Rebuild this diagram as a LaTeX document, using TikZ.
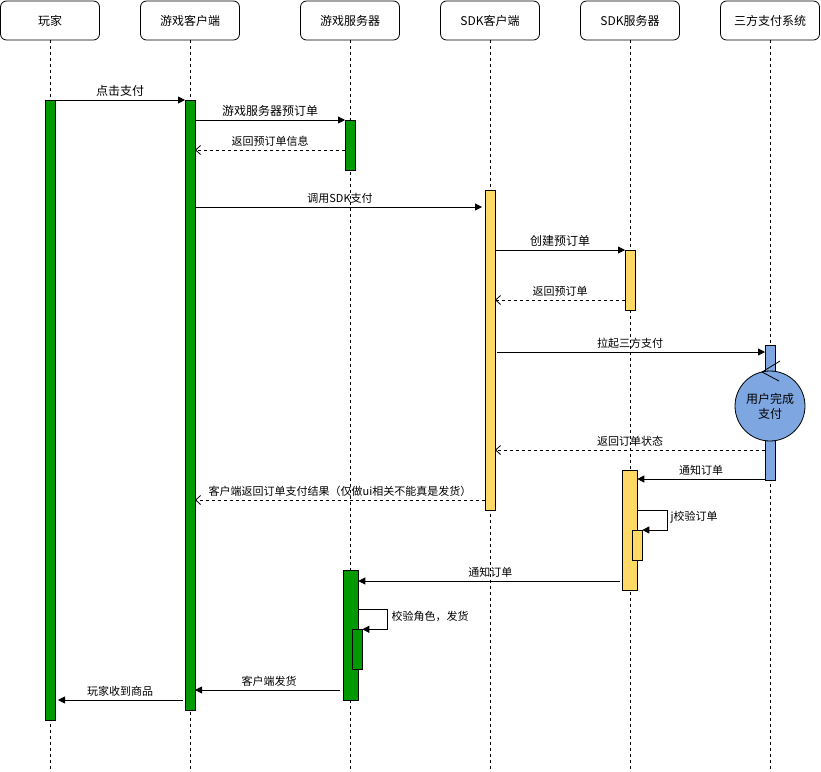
\documentclass[tikz,border=0pt]{standalone}
\usepackage{fontspec}
\setmainfont{Noto Sans CJK SC}
\usetikzlibrary{arrows.meta,calc}
\definecolor{actgreen}{HTML}{009900}
\definecolor{actyellow}{HTML}{FFD966}
\definecolor{actblue}{HTML}{7EA6E0}
\begin{document}
\begin{tikzpicture}[x=1pt,y=-1pt,
  hdr/.style={draw, rounded corners=6pt, minimum width=99pt, minimum height=39pt, inner sep=0pt, font=\fontsize{12}{14}\selectfont, line width=0.8pt},
  life/.style={dash pattern=on 3pt off 3pt, line width=0.8pt},
  actbar/.style={draw, line width=0.8pt, inner sep=0pt, outer sep=0pt},
  msg/.style={-{Triangle[length=7pt,width=7pt]}, line width=0.8pt},
  ret/.style={dash pattern=on 3pt off 3pt, -{Straight Barb[length=5pt,width=9pt]}, line width=0.8pt},
  lbl/.style={font=\fontsize{11}{13}\selectfont, above=2.5pt, inner sep=1pt},
  lblb/.style={font=\fontsize{12}{14}\selectfont, above=2.5pt, inner sep=1pt},
  slbl/.style={font=\fontsize{11}{13}\selectfont, anchor=west, inner sep=1pt}
]
\useasboundingbox (0,0) rectangle (821,771);
\fill[white] (0,0) rectangle (821,771);

% headers
\node[hdr] (h1) at (50,20.5) {玩家};
\node[hdr] (h2) at (190,20.5) {游戏客户端};
\node[hdr] (h3) at (350,20.5) {游戏服务器};
\node[hdr] (h4) at (490,20.5) {SDK客户端};
\node[hdr] (h5) at (630,20.5) {SDK服务器};
\node[hdr] (h6) at (770,20.5) {三方支付系统};

\coordinate (bot) at (0,771);
\foreach \h in {h1,h2,h3,h4,h5,h6}
  \draw[life] (\h.south) -- (\h.south |- bot);

% activation bars
\node[actbar, fill=actgreen, minimum width=10pt, minimum height=620pt] (p1) at (50,410) {};
\node[actbar, fill=actgreen, minimum width=10pt, minimum height=610pt] (c1) at (190,405) {};
\node[actbar, fill=actgreen, minimum width=10pt, minimum height=50pt] (g1) at (350,145) {};
\node[actbar, fill=actyellow, minimum width=10pt, minimum height=320pt] (s1) at (490,350) {};
\node[actbar, fill=actyellow, minimum width=10pt, minimum height=60pt] (v1) at (630,280) {};
\node[actbar, fill=actblue, minimum width=10pt, minimum height=135pt] (t1) at (770,412.5) {};
\node[actbar, fill=actblue, circle, minimum size=70pt, align=center, font=\fontsize{12}{15}\selectfont] (done) at (770,406) {用户完成\\支付};
\draw[line width=0.8pt] (780,361) -- (762,372) -- (779,381);
\node[actbar, fill=actyellow, minimum width=15pt, minimum height=120pt] (v2) at (629.8,530) {};
\node[actbar, fill=actyellow, minimum width=10pt, minimum height=30pt] (v2b) at (637.3,545) {};
\node[actbar, fill=actgreen, minimum width=15pt, minimum height=130pt] (g2) at (350.8,635) {};
\node[actbar, fill=actgreen, minimum width=10pt, minimum height=40pt] (g2b) at (357.3,649.3) {};

% message rows
\coordinate (y1) at (0,100);
\coordinate (y2) at (0,120);
\coordinate (y3) at (0,150);
\coordinate (y4) at (0,207);
\coordinate (y5) at (0,250);
\coordinate (y6) at (0,300);
\coordinate (y7) at (0,352);
\coordinate (y8) at (0,450);
\coordinate (y9) at (0,479);
\coordinate (y10) at (0,500);
\coordinate (y11) at (0,581);
\coordinate (y12) at (0,690);
\coordinate (y13) at (0,700);
\coordinate (ya) at (0,510);
\coordinate (yb) at (0,609.3);

\draw[msg] (p1.east |- y1) -- (c1.west |- y1) node[lblb, midway] {点击支付};
\draw[msg] (c1.east |- y2) -- (g1.west |- y2) node[lblb, midway] {游戏服务器预订单};
\draw[ret] (g1.west |- y3) -- (c1.east |- y3) node[lbl, midway] {返回预订单信息};
\draw[msg, shorten >=3pt] (c1.east |- y4) -- (s1.west |- y4) node[lbl, midway] {调用SDK支付};
\draw[msg] (s1.east |- y5) -- (v1.west |- y5) node[lblb, midway] {创建预订单};
\draw[ret] (v1.west |- y6) -- (s1.east |- y6) node[lbl, midway] {返回预订单};
\draw[msg, shorten <=2pt] (s1.east |- y7) -- (t1.west |- y7) node[lbl, midway] {拉起三方支付};
\draw[ret] (t1.west |- y8) -- (s1.east |- y8) node[lbl, midway] {返回订单状态};
\draw[msg] (t1.west |- y9) -- (v2.east |- y9) node[lbl, midway] {通知订单};
\draw[ret] (s1.west |- y10) -- (c1.east |- y10) node[lbl, midway] {客户端返回订单支付结果（仅做ui相关不能真是发货）};
\draw[msg] (v2.east |- ya) -- ++(30,0) coordinate (la) |- (v2b.east |- v2b.north);
\node[slbl] at ($(la)+(2,7)$) {j校验订单};
\draw[msg, shorten <=2pt] (v2.west |- y11) -- (g2.east |- y11) node[lbl, midway] {通知订单};
\draw[msg] (g2.east |- yb) -- ++(29,0) coordinate (lb) |- (g2b.east |- g2b.north);
\node[slbl] at ($(lb)+(3,7)$) {校验角色，发货};
\draw[msg, shorten <=3pt] (g2.west |- y12) -- (c1.east |- y12) node[lbl, midway] {客户端发货};
\draw[msg, shorten <=2pt, shorten >=3pt] (c1.west |- y13) -- (p1.east |- y13) node[lbl, midway] {玩家收到商品};
\end{tikzpicture}
\end{document}
